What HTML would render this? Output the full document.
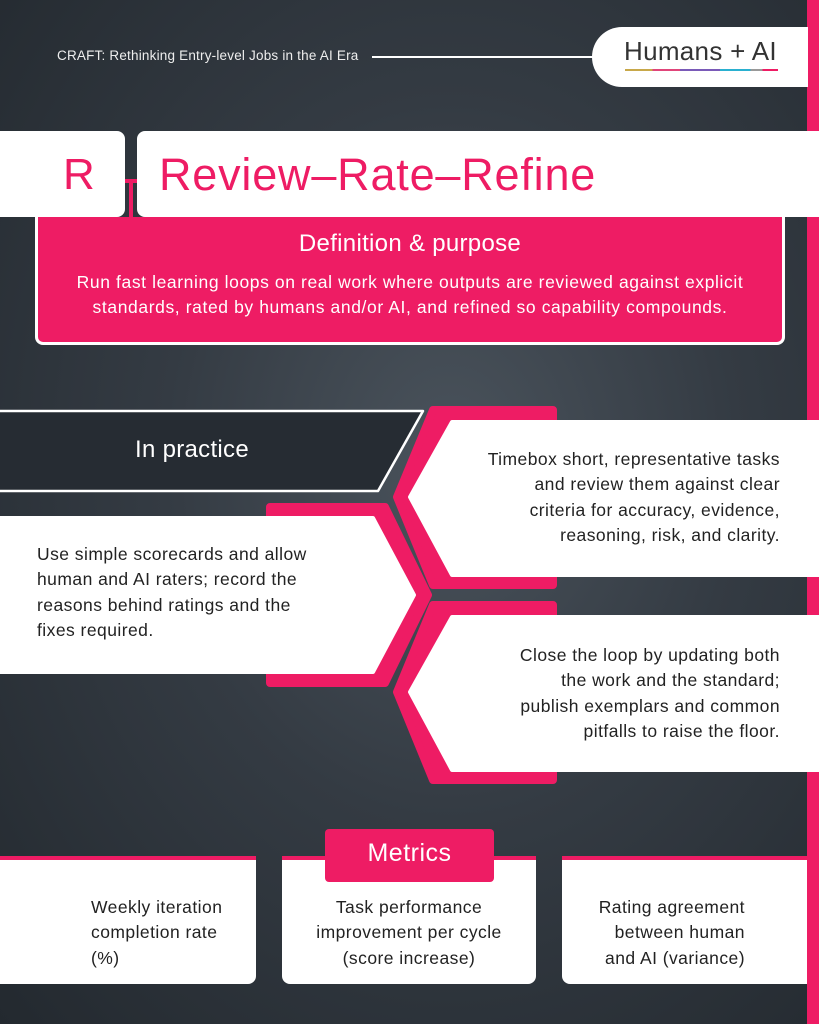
<!DOCTYPE html>
<html><head><meta charset="utf-8"><style>
body{margin:0;width:819px;height:1024px;overflow:hidden;position:relative;font-family:"Liberation Sans",sans-serif;
background:radial-gradient(ellipse at 55% 45%,#4a535c 0%,#343b43 45%,#23292f 100%);}
.a{position:absolute}
.t{position:absolute;color:#222;font-size:17.5px;letter-spacing:0.45px;line-height:25.3px;white-space:nowrap}
</style></head><body>
<div class="a" style="left:807px;top:0;width:12px;height:1024px;background:#ee1c64"></div>
<div class="a" style="left:57px;top:48px;color:#eee;font-size:13.5px;letter-spacing:0.2px;white-space:nowrap">CRAFT: Rethinking Entry-level Jobs in the AI Era</div>
<div class="a" style="left:372px;top:56px;width:225px;height:2px;background:#fff"></div>
<div class="a" style="left:592px;top:27px;width:216px;height:60px;background:#fff;border-radius:30px 0 0 30px"></div>
<div class="a" style="left:624px;top:36px;font-size:26px;color:#333;font-weight:300;letter-spacing:0.3px">Humans + AI</div>
<div class="a" style="left:625px;top:69px;height:2px;width:153px;background:linear-gradient(90deg,#c8a84a 0 18%,#e0457a 18% 36%,#7a5ab8 36% 62%,#2ab0d0 62% 82%,#999 82% 90%,#ee1c64 90%)"></div>

<div class="a" style="left:0;top:131px;width:125px;height:86px;background:#fff;border-radius:0 8px 8px 0"></div>
<div class="a" style="left:63px;top:150px;font-size:44px;color:#ee1c64">R</div>
<div class="a" style="left:125px;top:179px;width:12px;height:4px;background:#ee1c64"></div>
<div class="a" style="left:129px;top:183px;width:4px;height:36px;background:#ee1c64"></div>
<div class="a" style="left:137px;top:131px;width:682px;height:86px;background:#fff;border-radius:8px 0 0 8px"></div>
<div class="a" style="left:159px;top:149px;font-size:45px;letter-spacing:0.8px;color:#ee1c64;white-space:nowrap">Review–Rate–Refine</div>

<div class="a" style="left:35px;top:217px;width:744px;height:125px;background:#ee1c64;border:3px solid #fff;border-top:none;border-radius:0 0 8px 8px"></div>
<div class="a" style="left:35px;top:230px;width:750px;text-align:center;color:#fff;font-size:24px;letter-spacing:0.3px">Definition &amp; purpose</div>
<div class="a" style="left:20px;top:270px;width:780px;text-align:center;color:#fff;font-size:17.5px;letter-spacing:0.6px;line-height:25px;white-space:nowrap">Run fast learning loops on real work where outputs are reviewed against explicit<br>standards, rated by humans and/or AI, and refined so capability compounds.</div>

<svg class="a" style="left:0;top:0" width="819" height="1024">
<polygon points="-5,411 423,411 378,491 -5,491" fill="#262c33" stroke="#fff" stroke-width="2.5" stroke-linejoin="round"/>
<polygon points="433,410 553,410 553,585 433,585 397,497" fill="#ee1c64" stroke="#ee1c64" stroke-width="8" stroke-linejoin="round"/>
<polygon points="452,422 819,422 819,575 452,575 410,497" fill="#fff" stroke="#fff" stroke-width="4" stroke-linejoin="round"/>
<polygon points="270,507 385,507 428,595 385,683 270,683" fill="#ee1c64" stroke="#ee1c64" stroke-width="8" stroke-linejoin="round"/>
<polygon points="0,518 373,518 414,595 373,672 0,672" fill="#fff" stroke="#fff" stroke-width="4" stroke-linejoin="round"/>
<polygon points="433,605 553,605 553,780 433,780 397,692" fill="#ee1c64" stroke="#ee1c64" stroke-width="8" stroke-linejoin="round"/>
<polygon points="452,617 819,617 819,770 452,770 410,692" fill="#fff" stroke="#fff" stroke-width="4" stroke-linejoin="round"/>
</svg>
<div class="a" style="left:92px;top:436px;width:200px;text-align:center;color:#fff;font-size:24px;letter-spacing:0.3px">In practice</div>
<div class="t" style="left:420px;top:447px;width:360px;text-align:right">Timebox short, representative tasks<br>and review them against clear<br>criteria for accuracy, evidence,<br>reasoning, risk, and clarity.</div>
<div class="t" style="left:37px;top:542px;width:330px">Use simple scorecards and allow<br>human and AI raters; record the<br>reasons behind ratings and the<br>fixes required.</div>
<div class="t" style="left:420px;top:643px;width:360px;text-align:right">Close the loop by updating both<br>the work and the standard;<br>publish exemplars and common<br>pitfalls to raise the floor.</div>

<div class="a" style="left:0;top:856px;width:256px;height:124px;background:#fff;border-top:4px solid #ee1c64;border-radius:0 0 8px 0"></div>
<div class="a" style="left:282px;top:856px;width:254px;height:124px;background:#fff;border-top:4px solid #ee1c64;border-radius:0 0 8px 8px"></div>
<div class="a" style="left:562px;top:856px;width:245px;height:124px;background:#fff;border-top:4px solid #ee1c64;border-radius:0 0 0 8px"></div>
<div class="a" style="left:325px;top:829px;width:169px;height:53px;background:#ee1c64;border-radius:4px"></div>
<div class="a" style="left:325px;top:839px;width:169px;text-align:center;color:#fff;font-size:25px;letter-spacing:0.5px">Metrics</div>
<div class="t" style="left:91px;top:895px">Weekly iteration<br>completion rate<br>(%)</div>
<div class="t" style="left:282px;top:895px;width:254px;text-align:center">Task performance<br>improvement per cycle<br>(score increase)</div>
<div class="t" style="left:552px;top:895px;width:193px;text-align:right">Rating agreement<br>between human<br>and AI (variance)</div>
</body></html>
